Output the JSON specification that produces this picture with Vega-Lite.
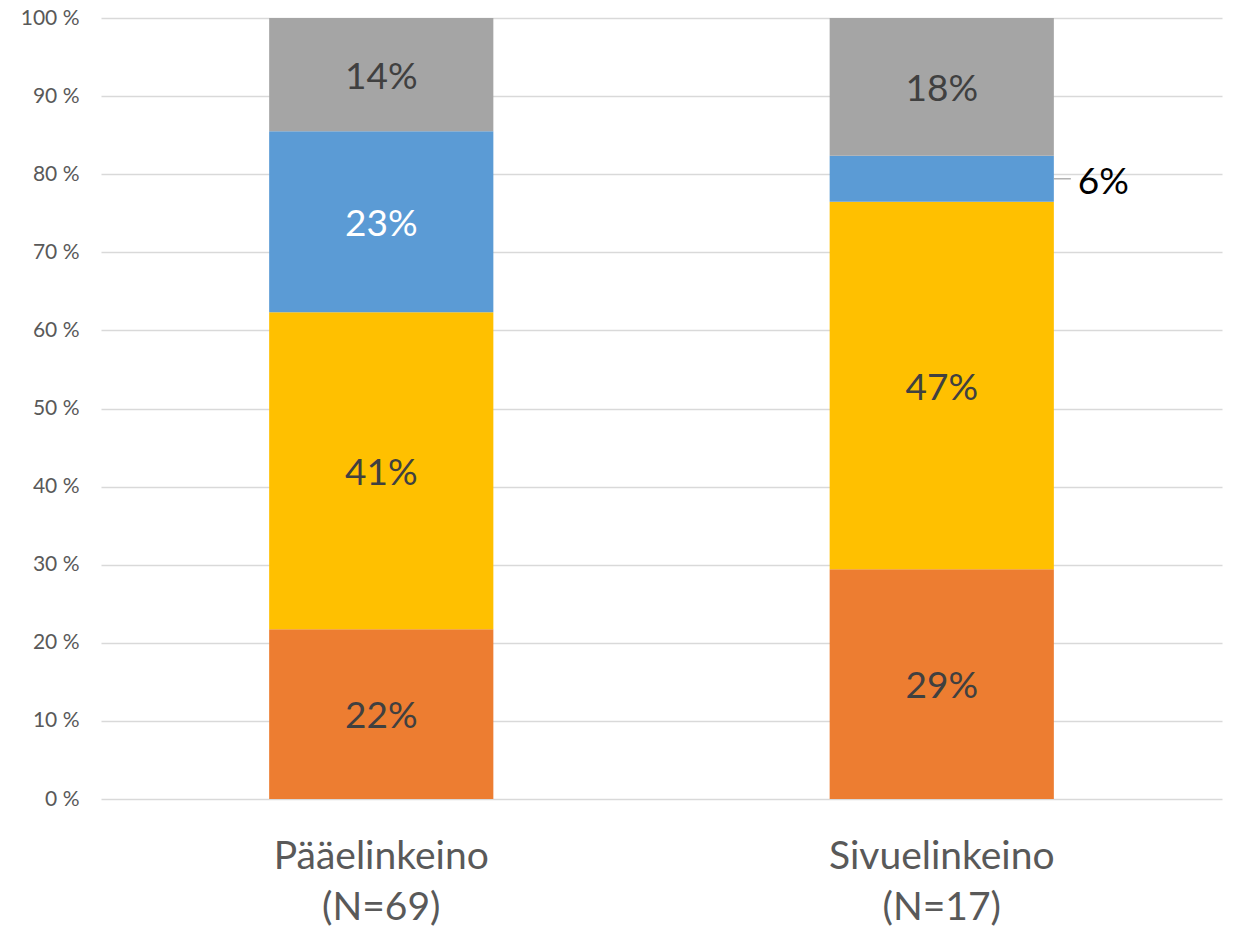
{
  "$schema": "https://vega.github.io/schema/vega-lite/v6.json",
  "autosize": "none",
  "width": 1121,
  "height": 781,
  "padding": {"left": 101, "top": 18, "right": 11, "bottom": 129},
  "background": "white",
  "config": {"view": {"stroke": null}, "font": "Lato"},
  "data": {
    "values": [
      {"cat": "Pääelinkeino", "n": "(N=69)", "seg": "A", "ord": 1, "count": 15, "label": "22%"},
      {"cat": "Pääelinkeino", "n": "(N=69)", "seg": "B", "ord": 2, "count": 28, "label": "41%"},
      {"cat": "Pääelinkeino", "n": "(N=69)", "seg": "C", "ord": 3, "count": 16, "label": "23%"},
      {"cat": "Pääelinkeino", "n": "(N=69)", "seg": "D", "ord": 4, "count": 10, "label": "14%"},
      {"cat": "Sivuelinkeino", "n": "(N=17)", "seg": "A", "ord": 1, "count": 5, "label": "29%"},
      {"cat": "Sivuelinkeino", "n": "(N=17)", "seg": "B", "ord": 2, "count": 8, "label": "47%"},
      {"cat": "Sivuelinkeino", "n": "(N=17)", "seg": "C", "ord": 3, "count": 1, "label": "6%"},
      {"cat": "Sivuelinkeino", "n": "(N=17)", "seg": "D", "ord": 4, "count": 3, "label": "18%"}
    ]
  },
  "transform": [
    {"stack": "count", "groupby": ["cat"], "sort": [{"field": "ord"}], "as": ["y0", "y1"], "offset": "normalize"},
    {"calculate": "(datum.y0 + datum.y1) / 2", "as": "mid"}
  ],
  "encoding": {
    "x": {
      "field": "cat", "type": "nominal", "sort": null,
      "scale": {"paddingInner": 0.6, "paddingOuter": 0.3},
      "axis": {
        "title": null, "domain": false, "ticks": false, "labelAngle": 0,
        "labelFontSize": 39, "labelColor": "#595959", "labelPadding": 38,
        "labelLineHeight": 51, "labelBaseline": "top", "labelLimit": 0,
        "labelExpr": "datum.value == 'Pääelinkeino' ? ['Pääelinkeino', '(N=69)'] : ['Sivuelinkeino', '(N=17)']"
      }
    }
  },
  "layer": [
    {
      "mark": {"type": "bar"},
      "encoding": {
        "y": {
          "field": "y0", "type": "quantitative",
          "scale": {"domain": [0, 1], "nice": false},
          "axis": {
            "title": null, "domain": false, "ticks": false,
            "values": [0, 0.1, 0.2, 0.3, 0.4, 0.5, 0.6, 0.7, 0.8, 0.9, 1],
            "labelExpr": "round(datum.value * 100) + ' %'",
            "labelFontSize": 21, "labelColor": "#595959", "labelPadding": 22,
            "gridColor": "#d9d9d9", "gridWidth": 1.3
          }
        },
        "y2": {"field": "y1"},
        "color": {
          "field": "seg", "type": "nominal", "legend": null,
          "scale": {"domain": ["A", "B", "C", "D"], "range": ["#ed7d31", "#ffc000", "#5b9bd5", "#a5a5a5"]}
        }
      }
    },
    {
      "transform": [{"filter": "!(datum.cat == 'Sivuelinkeino' && datum.seg == 'C')"}],
      "mark": {"type": "text", "fontSize": 37, "baseline": "middle", "align": "center", "dy": 3},
      "encoding": {
        "y": {"field": "mid", "type": "quantitative"},
        "text": {"field": "label"},
        "color": {
          "condition": {"test": "datum.seg == 'C'", "value": "#ffffff"},
          "value": "#404040"
        }
      }
    },
    {
      "transform": [{"filter": "datum.cat == 'Sivuelinkeino' && datum.seg == 'C'"}],
      "mark": {"type": "rule", "color": "#a6a6a6", "strokeWidth": 1.3, "x2Offset": 17},
      "encoding": {
        "x": {"field": "cat", "type": "nominal", "bandPosition": 1},
        "x2": {"field": "cat", "bandPosition": 1},
        "y": {"field": "mid", "type": "quantitative"}
      }
    },
    {
      "transform": [{"filter": "datum.cat == 'Sivuelinkeino' && datum.seg == 'C'"}],
      "mark": {"type": "text", "fontSize": 37, "baseline": "middle", "align": "left", "dx": 24, "dy": 4, "color": "#000000"},
      "encoding": {
        "x": {"field": "cat", "type": "nominal", "bandPosition": 1},
        "y": {"field": "mid", "type": "quantitative"},
        "text": {"field": "label"}
      }
    }
  ]
}
